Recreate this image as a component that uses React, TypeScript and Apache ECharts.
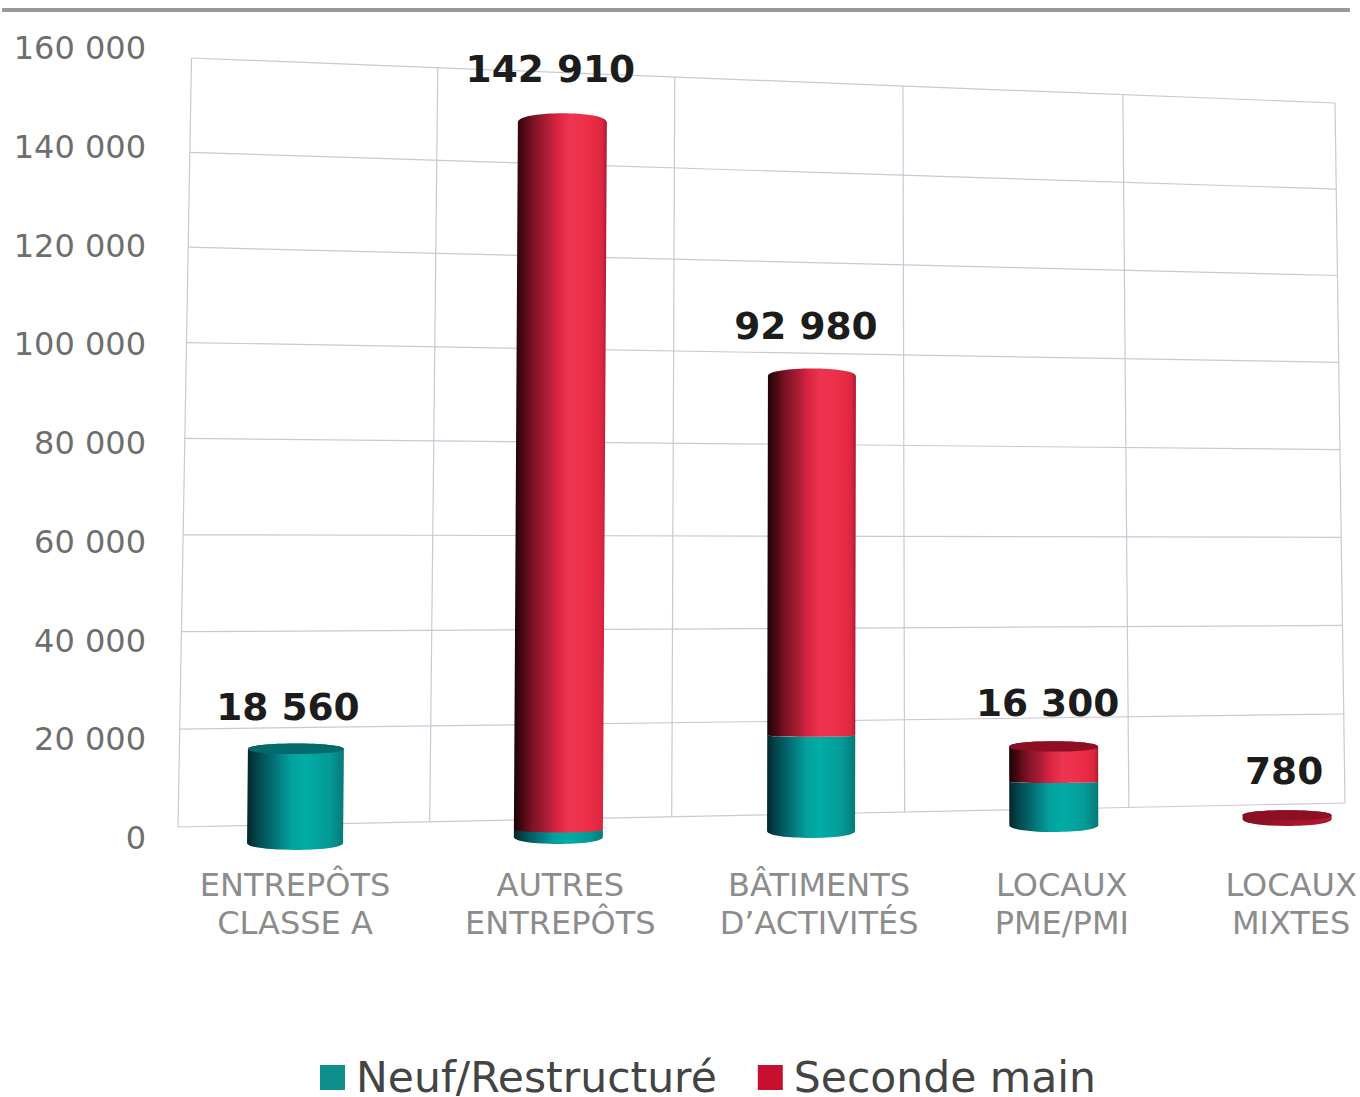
import React, { useEffect, useRef } from "react";
import * as echarts from "echarts";

const categories = ["ENTREPÔTS\nCLASSE A", "AUTRES\nENTREPÔTS", "BÂTIMENTS\nD’ACTIVITÉS", "LOCAUX\nPME/PMI", "LOCAUX\nMIXTES"];
const neuf = [18560, 1500, 19500, 9000, 0];
const seconde = [0, 141410, 73480, 7300, 780];
const totals = [18560, 142910, 92980, 16300, 780];
const yMax = 160000;
const yStep = 20000;

// Layout of the perspective view (not data)
const FONT = "DejaVu Sans";
const halfWidths = [48, 44.5, 44, 44.5, 44.5];
const valueNudgeX = [-8, -12, -6, -6, -3];
const valueNudgeY = [-42, -53.4, -50, -43.6, -44.3];
const catNudgeX = [0, 2, 8, 8, 4];
const wallCorners = [[178, 827], [1345, 803], [1335, 103], [191.5, 58]];

function makeHomography(q: number[][]) {
  const [[x0, y0], [x1, y1], [x2, y2], [x3, y3]] = q;
  const dx1 = x1 - x2, dx2 = x3 - x2, sx = x0 - x1 + x2 - x3;
  const dy1 = y1 - y2, dy2 = y3 - y2, sy = y0 - y1 + y2 - y3;
  const det = dx1 * dy2 - dx2 * dy1;
  const g = (sx * dy2 - dx2 * sy) / det;
  const h = (dx1 * sy - sx * dy1) / det;
  const a = x1 - x0 + g * x1, b = x3 - x0 + h * x3;
  const d = y1 - y0 + g * y1, e = y3 - y0 + h * y3;
  return (u: number, v: number) => {
    const w = g * u + h * v + 1;
    return [(a * u + b * v + x0) / w, (d * u + e * v + y0) / w];
  };
}
const wallPoint = makeHomography(wallCorners);

// plane in which the cylinders stand, slightly in front of the wall
function frontPoint(u: number, v: number) {
  const x = (1389.7 * u + 159.2) / (1 + 0.106 * u) + 15 * v * (0.6 - u);
  const y = 846 - 30 * u - v * 160 * (5.06 - 0.42 * (u - 0.1)) - 12 * Math.max(0, v - 0.6);
  return [x, y];
}

function normalise(api: any, params: any, xVal: number, yVal: number) {
  const p = api.coord([xVal, yVal]);
  const r = params.coordSys;
  return [(p[0] - r.x) / r.width, (r.y + r.height - p[1]) / r.height];
}

const redStops = [
  [0, "#1c0307"], [0.08, "#42070f"], [0.2, "#7c1224"], [0.34, "#a81c34"], [0.46, "#d82442"],
  [0.6, "#ee3450"], [0.8, "#ee2e48"], [0.95, "#dc2640"], [1, "#a81a30"],
];
const flatRedStops = [[0, "#7c0f20"], [0.5, "#a5142a"], [1, "#b5162e"]];
const tealStops = [
  [0, "#02262a"], [0.1, "#04454d"], [0.25, "#046a70"], [0.45, "#02a09c"],
  [0.6, "#01aca6"], [0.85, "#049a96"], [1, "#047a78"],
];
const gradient = (stops: any[]) => ({
  type: "linear", x: 0, y: 0, x2: 1, y2: 0,
  colorStops: stops.map(([offset, color]) => ({ offset, color })),
});

function cylinder(api: any, params: any, below: number, val: number, stops: any[], capColor: string, isTop: boolean) {
  const i = api.value(0);
  if (!val) return null;
  const rx = halfWidths[i];
  const [u0, v0] = normalise(api, params, i, below);
  const [, v1] = normalise(api, params, i, below + val);
  const b = frontPoint(u0, v0);
  const t = frontPoint(u0, v1);
  const k = 1.33;
  const ryB = below ? (below < 5000 ? 3 : 1.2) : 7;
  const ryT = 5 + 4.5 * v1;
  const bodyStops = isTop && v1 - v0 < 0.01 ? flatRedStops : stops;
  const d =
    `M${t[0] - rx} ${t[1]}L${b[0] - rx} ${b[1]}` +
    `C${b[0] - rx} ${b[1] + ryB * k} ${b[0] + rx} ${b[1] + ryB * k} ${b[0] + rx} ${b[1]}` +
    `L${t[0] + rx} ${t[1]}` +
    `C${t[0] + rx} ${t[1] - (isTop ? ryT : -1.2) * k} ${t[0] - rx} ${t[1] - (isTop ? ryT : -1.2) * k} ${t[0] - rx} ${t[1]}Z`;
  const children: any[] = [{ type: "path", shape: { pathData: d }, style: { fill: gradient(bodyStops) } }];
  if (isTop && v1 < 0.3) {
    const ry = 5;
    const capD =
      `M${t[0] - rx} ${t[1]}C${t[0] - rx} ${t[1] + ry * k} ${t[0] + rx} ${t[1] + ry * k} ${t[0] + rx} ${t[1]}` +
      `C${t[0] + rx} ${t[1] - ryT * k} ${t[0] - rx} ${t[1] - ryT * k} ${t[0] - rx} ${t[1]}Z`;
    children.push({ type: "path", shape: { pathData: capD }, style: { fill: capColor } });
  }
  return { type: "group", children };
}

function App() {
  const ref = useRef<HTMLDivElement>(null);
  useEffect(() => {
    document.body.style.margin = "0";
    const chart = echarts.init(ref.current!, null, { renderer: "svg" });
    const yTicks: number[] = [];
    for (let v = 0; v <= yMax; v += yStep) yTicks.push(v);
    chart.setOption({
      animation: false,
      backgroundColor: "#ffffff",
      textStyle: { fontFamily: FONT },
      grid: { left: 180, right: 15, top: 48, bottom: 259, containLabel: false },
      xAxis: {
        type: "category",
        data: categories,
        axisLabel: { show: false },
        axisLine: { show: false },
        axisTick: { show: false },
      },
      yAxis: {
        type: "value",
        min: 0,
        max: yMax,
        interval: yStep,
        splitLine: { show: false },
        axisLine: { show: false },
        axisTick: { show: false },
        axisLabel: {
          margin: 34,
          fontSize: 32,
          fontFamily: FONT,
          color: "#6e6e6e",
          formatter: (v: number) => String(v).replace(/\B(?=(\d{3})+$)/g, " "),
        },
      },
      legend: {
        data: ["Neuf/Restructuré", "Seconde main"],
        left: 315,
        top: 1051,
        itemWidth: 25,
        itemHeight: 25,
        itemGap: 41,
        icon: "rect",
        textStyle: { fontSize: 42.5, fontFamily: FONT, color: "#444444", padding: [0, 0, 0, 6] },
      },
      graphic: [
        { type: "line", shape: { x1: 2, y1: 10, x2: 1350, y2: 10 }, style: { stroke: "#999999", lineWidth: 4 } },
      ],
      series: [
        {
          type: "custom",
          name: "wall",
          silent: true,
          z: 1,
          data: yTicks.map((v, i) => [i % 6, v]),
          renderItem: (params: any, api: any) => {
            const [, v] = normalise(api, params, 0, api.value(1));
            const a = wallPoint(0, v);
            const b = wallPoint(1, v);
            const children: any[] = [
              { type: "line", shape: { x1: a[0], y1: a[1], x2: b[0], y2: b[1] }, style: { stroke: "#c9c9d6", lineWidth: 1.2 } },
            ];
            if (params.dataIndex < 6) {
              const u = params.dataIndex / 5;
              const c = wallPoint(u, 0);
              const e = wallPoint(u, 1);
              children.push({ type: "line", shape: { x1: c[0], y1: c[1], x2: e[0], y2: e[1] }, style: { stroke: "#c9c9d6", lineWidth: 1.2 } });
            }
            return { type: "group", children };
          },
        },
        {
          type: "custom",
          name: "Neuf/Restructuré",
          z: 2,
          itemStyle: { color: "#0f8f8c" },
          data: neuf.map((v, i) => [i, v]),
          renderItem: (params: any, api: any) =>
            cylinder(api, params, 0, api.value(1), tealStops, "#036a6c", seconde[api.value(0)] === 0),
        },
        {
          type: "custom",
          name: "Seconde main",
          z: 3,
          itemStyle: { color: "#c8102e" },
          data: seconde.map((v, i) => [i, v]),
          renderItem: (params: any, api: any) =>
            cylinder(api, params, neuf[api.value(0)], api.value(1), redStops, "#8c0f24", true),
        },
        {
          type: "custom",
          name: "values",
          z: 4,
          silent: true,
          data: totals.map((v, i) => [i, v]),
          renderItem: (params: any, api: any) => {
            const i = api.value(0);
            const [u, v] = normalise(api, params, i, api.value(1));
            const top = frontPoint(u, v);
            const base = frontPoint(u, 0);
            return {
              type: "group",
              children: [
                {
                  type: "text",
                  style: {
                    x: top[0] + valueNudgeX[i],
                    y: top[1] + valueNudgeY[i],
                    text: String(totals[i]).replace(/\B(?=(\d{3})+$)/g, " "),
                    fill: "#1c1c1c",
                    font: `bold 37.5px "${FONT}"`,
                    align: "center",
                    verticalAlign: "middle",
                  },
                },
                {
                  type: "text",
                  style: {
                    x: base[0] + catNudgeX[i],
                    y: 904,
                    text: categories[i],
                    fill: "#8c8c8c",
                    font: `32px "${FONT}"`,
                    lineHeight: 38,
                    align: "center",
                    verticalAlign: "middle",
                  },
                },
              ],
            };
          },
        },
      ],
    });
    return () => chart.dispose();
  }, []);
  return <div ref={ref} style={{ width: 1360, height: 1097 }} />;
}

export default App;
